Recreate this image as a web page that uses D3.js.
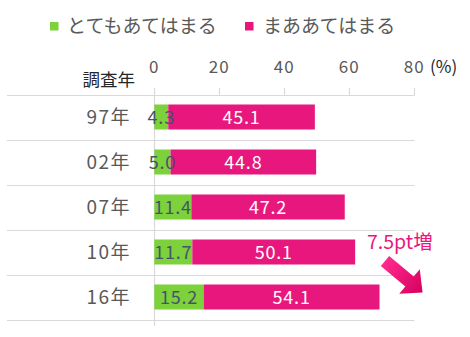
<!DOCTYPE html>
<html><head><meta charset="utf-8">
<script src="https://cdn.jsdelivr.net/npm/d3@7"></script>
<style>
body{margin:0;background:#fff;}
text{font-family:"Noto Sans CJK JP","Noto Sans",sans-serif;}
</style></head>
<body><svg id="c" width="470" height="337"></svg>
<script>
const years = ["97年","02年","07年","10年","16年"];
const strongly = [4.3,5.0,11.4,11.7,15.2];
const somewhat = [45.1,44.8,47.2,50.1,54.1];
const seriesNames = ["とてもあてはまる","まああてはまる"];
const ticks = [0,20,40,60,80];
const annotation = "7.5pt増";

const green = "#7DD13B", pink = "#E8177D";
const svg = d3.select("#c");
const x = d3.scaleLinear().domain([0,80]).range([154.3,414.3]);
const y = d3.scaleBand().domain(years).range([94.5,319.5]).paddingInner(0.4444).paddingOuter(0.2222);

// legend
const leg = [[50,67,green],[245,263,pink]];
seriesNames.forEach((n,i)=>{
  svg.append("rect").attr("x",leg[i][0]).attr("y",22).attr("width",8.5).attr("height",8.5).attr("fill",leg[i][2]);
  svg.append("text").attr("x",leg[i][1]).attr("y",33).attr("font-size",19).attr("fill","#595959").text(n);
});

// horizontal grid lines (band boundaries)
const bounds = years.map(d=>y(d)-y.step()*y.paddingInner()/2);
bounds.push(319.5);
svg.selectAll("line.h").data(bounds).join("line")
  .attr("x1",7).attr("x2",414.5).attr("y1",d=>Math.round(d)+0.5).attr("y2",d=>Math.round(d)+0.5)
  .attr("stroke","#d9d9d9").attr("stroke-width",1.2);

// top axis ticks
svg.selectAll("line.t").data(ticks).join("line")
  .attr("x1",d=>Math.round(x(d))+0.5).attr("x2",d=>Math.round(x(d))+0.5)
  .attr("y1",88).attr("y2",d=>d===0?326:95)
  .attr("stroke","#d9d9d9").attr("stroke-width",1.2);
svg.selectAll("text.t").data(ticks).join("text")
  .attr("x",d=>x(d)).attr("y",73).attr("text-anchor","middle")
  .attr("font-size",17).attr("letter-spacing","1px").attr("fill","#595959").text(d=>d);
svg.append("text").attr("x",430).attr("y",73).attr("font-size",17).attr("fill","#262626").text("(%)");
svg.append("text").attr("x",135).attr("y",86).attr("text-anchor","end").attr("font-size",17.5).attr("fill","#262626").text("調査年");

// category labels
svg.selectAll("text.cat").data(years).join("text")
  .attr("x",131).attr("y",d=>y(d)+y.bandwidth()/2+7).attr("text-anchor","end")
  .attr("font-size",19).attr("fill","#595959").attr("letter-spacing","1.5px").text(d=>d);

// bars
const bh = 25;
years.forEach((yr,i)=>{
  const cy = y(yr)+y.bandwidth()/2;
  const a = strongly[i], b = somewhat[i];
  svg.append("rect").attr("x",x(0)).attr("y",cy-bh/2).attr("width",x(a)-x(0)).attr("height",bh).attr("fill",green);
  svg.append("rect").attr("x",x(a)).attr("y",cy-bh/2).attr("width",x(a+b)-x(a)).attr("height",bh).attr("fill",pink);
  svg.append("text").attr("x",(x(0)+x(a))/2).attr("y",cy+6.5).attr("text-anchor","middle")
    .attr("font-size",18).attr("letter-spacing","0.8px").attr("fill","#44546A").text(a.toFixed(1));
  svg.append("text").attr("x",(x(a)+x(a+b))/2).attr("y",cy+6.5).attr("text-anchor","middle")
    .attr("font-size",18).attr("letter-spacing","0.8px").attr("fill","#fff").text(b.toFixed(1));
});

// annotation
svg.append("text").attr("x",367).attr("y",249).attr("font-size",19.5).attr("fill",pink).text(annotation);
const defs = svg.append("defs");
const g = defs.append("linearGradient").attr("id","ag").attr("x1","0").attr("y1","0").attr("x2","1").attr("y2","0");
g.append("stop").attr("offset","0").attr("stop-color","#FF2A8E");
g.append("stop").attr("offset","1").attr("stop-color","#D6005E");
const L=49, sw=13, hw=32, hl=17;
svg.append("path")
  .attr("d",`M0,${-sw/2} L${L-hl},${-sw/2} L${L-hl},${-hw/2} L${L},0 L${L-hl},${hw/2} L${L-hl},${sw/2} L0,${sw/2} Z`)
  .attr("fill","url(#ag)")
  .attr("transform","translate(385,261) rotate(40)");
</script></body></html>
